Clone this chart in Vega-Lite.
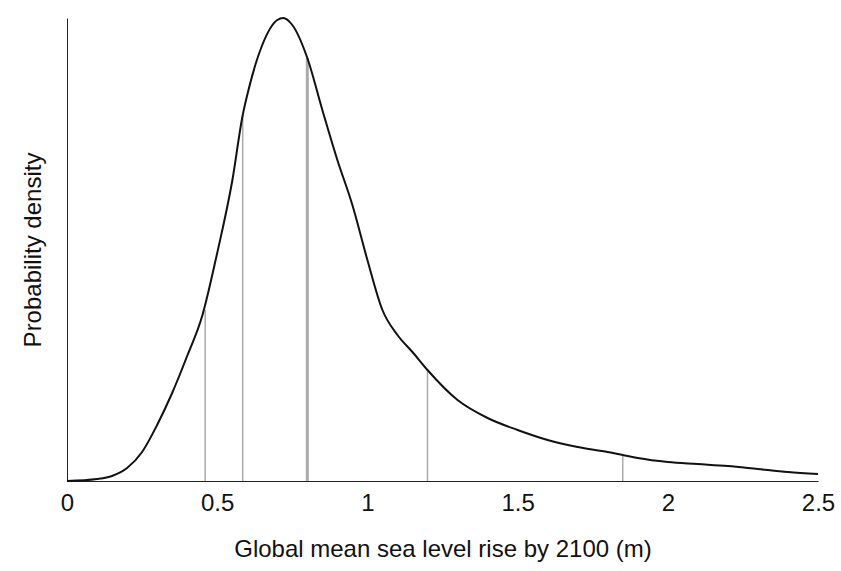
{
  "$schema": "https://vega.github.io/schema/vega-lite/v6.json",
  "autosize": "none",
  "padding": {"left": 67, "top": 18, "right": 23, "bottom": 90},
  "width": 751,
  "height": 463,
  "background": "white",
  "config": {"view": {"stroke": null}, "axis": {"grid": false, "domainColor": "#222", "tickColor": "#222", "labelColor": "#111", "titleColor": "#111", "labelFont": "Liberation Sans", "titleFont": "Liberation Sans", "titleFontWeight": "normal"}},
  "datasets": {
    "curve": [
      {"x": 0, "d": 0}, {"x": 0.1, "d": 2}, {"x": 0.15, "d": 5}, {"x": 0.2, "d": 13},
      {"x": 0.25, "d": 29}, {"x": 0.3, "d": 56}, {"x": 0.35, "d": 88}, {"x": 0.4, "d": 125},
      {"x": 0.45, "d": 165}, {"x": 0.5, "d": 228}, {"x": 0.55, "d": 300}, {"x": 0.585, "d": 366},
      {"x": 0.6, "d": 386}, {"x": 0.65, "d": 436}, {"x": 0.7, "d": 461}, {"x": 0.72, "d": 463},
      {"x": 0.75, "d": 456}, {"x": 0.8, "d": 423}, {"x": 0.85, "d": 371}, {"x": 0.9, "d": 321},
      {"x": 0.95, "d": 276}, {"x": 1.0, "d": 221}, {"x": 1.05, "d": 171}, {"x": 1.1, "d": 146},
      {"x": 1.15, "d": 129}, {"x": 1.2, "d": 111}, {"x": 1.3, "d": 81}, {"x": 1.4, "d": 63},
      {"x": 1.5, "d": 51}, {"x": 1.6, "d": 41}, {"x": 1.7, "d": 34}, {"x": 1.8, "d": 29},
      {"x": 1.85, "d": 26}, {"x": 1.9, "d": 23}, {"x": 2.0, "d": 19}, {"x": 2.1, "d": 17},
      {"x": 2.2, "d": 15}, {"x": 2.3, "d": 12}, {"x": 2.4, "d": 9}, {"x": 2.5, "d": 7}
    ],
    "marks": [
      {"x": 0.46, "d": 171, "w": 1.5},
      {"x": 0.585, "d": 366, "w": 1.5},
      {"x": 0.8, "d": 423, "w": 3},
      {"x": 1.2, "d": 111, "w": 1.5},
      {"x": 1.85, "d": 26, "w": 1.5}
    ]
  },
  "layer": [
    {
      "data": {"name": "marks"},
      "mark": {"type": "rule", "color": "#aaa"},
      "encoding": {
        "x": {"field": "x", "type": "quantitative"},
        "y": {"field": "d", "type": "quantitative"},
        "y2": {"datum": 0},
        "strokeWidth": {"field": "w", "type": "quantitative", "scale": null}
      }
    },
    {
      "data": {"name": "curve"},
      "mark": {"type": "line", "color": "#111", "strokeWidth": 2, "interpolate": "monotone"},
      "encoding": {
        "x": {"field": "x", "type": "quantitative", "scale": {"domain": [0, 2.5], "nice": false},
          "axis": {"values": [0, 0.5, 1, 1.5, 2, 2.5], "format": "~g", "labelFontSize": 24, "titleFontSize": 24, "title": "Global mean sea level rise by 2100 (m)", "tickSize": 0, "labelPadding": 10, "titlePadding": 22, "labelFlush": false}},
        "y": {"field": "d", "type": "quantitative", "scale": {"domain": [0, 463], "nice": false},
          "axis": {"ticks": false, "labels": false, "title": "Probability density", "titleFontSize": 24, "titlePadding": 22}}
      }
    }
  ]
}
